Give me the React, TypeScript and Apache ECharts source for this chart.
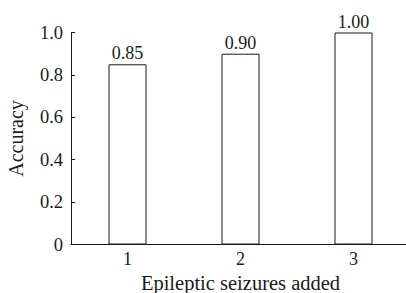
import React, { useEffect, useRef } from "react";
import * as echarts from "echarts";

const categories = ["1", "2", "3"];
const accuracy = [0.85, 0.9, 1.0];
const barLabels = ["0.85", "0.90", "1.00"];
const yTicks = [0, 0.2, 0.4, 0.6, 0.8, 1.0];

const FONT = "'Liberation Serif', 'Times New Roman', serif";
const INK = "#1a1a1a";

export default function App() {
  const ref = useRef<HTMLDivElement>(null);
  useEffect(() => {
    if (!ref.current) return;
    const chart = echarts.init(ref.current, undefined, { renderer: "svg" });
    chart.setOption({
      animation: false,
      backgroundColor: "#ffffff",
      grid: {
        left: 71,
        top: 32.5,
        width: 339,
        height: 212,
        containLabel: false,
        outerBoundsMode: "none",
      },
      xAxis: {
        type: "category",
        data: categories,
        axisTick: { show: false },
        axisLine: { lineStyle: { color: INK, width: 1 } },
        axisLabel: { color: INK, fontFamily: FONT, fontSize: 18, margin: 5 },
        name: "Epileptic seizures added",
        nameLocation: "middle",
        nameGap: 16,
        nameTextStyle: { color: INK, fontFamily: FONT, fontSize: 20.5, lineHeight: 20 },
      },
      yAxis: {
        type: "value",
        min: 0,
        max: 1,
        interval: 0.2,
        splitLine: { show: false },
        axisLine: { show: true, lineStyle: { color: INK, width: 1 } },
        axisTick: { show: true, inside: true, length: 4, lineStyle: { color: INK } },
        axisLabel: {
          color: INK,
          fontFamily: FONT,
          fontSize: 18.5,
          margin: 8,
          formatter: (v: number) => {
            const t = yTicks.find((x) => Math.abs(x - v) < 1e-9);
            const val = t === undefined ? v : t;
            return val === 0 ? "0" : val.toFixed(1);
          },
        },
        name: "Accuracy",
        nameLocation: "middle",
        nameGap: 45,
        nameTextStyle: { color: INK, fontFamily: FONT, fontSize: 20 },
      },
      series: [
        {
          type: "bar",
          data: accuracy,
          barWidth: 38,
          itemStyle: { color: "#ffffff", borderColor: INK, borderWidth: 1 },
          label: {
            show: true,
            position: "top",
            distance: 2,
            color: INK,
            fontFamily: FONT,
            fontSize: 18,
            formatter: (p: any) => barLabels[p.dataIndex],
          },
        },
      ],
    });
    return () => chart.dispose();
  }, []);
  return (
    <div
      ref={ref}
      style={{ position: "fixed", left: 0, top: 0, width: 406, height: 293, background: "#fff" }}
    />
  );
}
